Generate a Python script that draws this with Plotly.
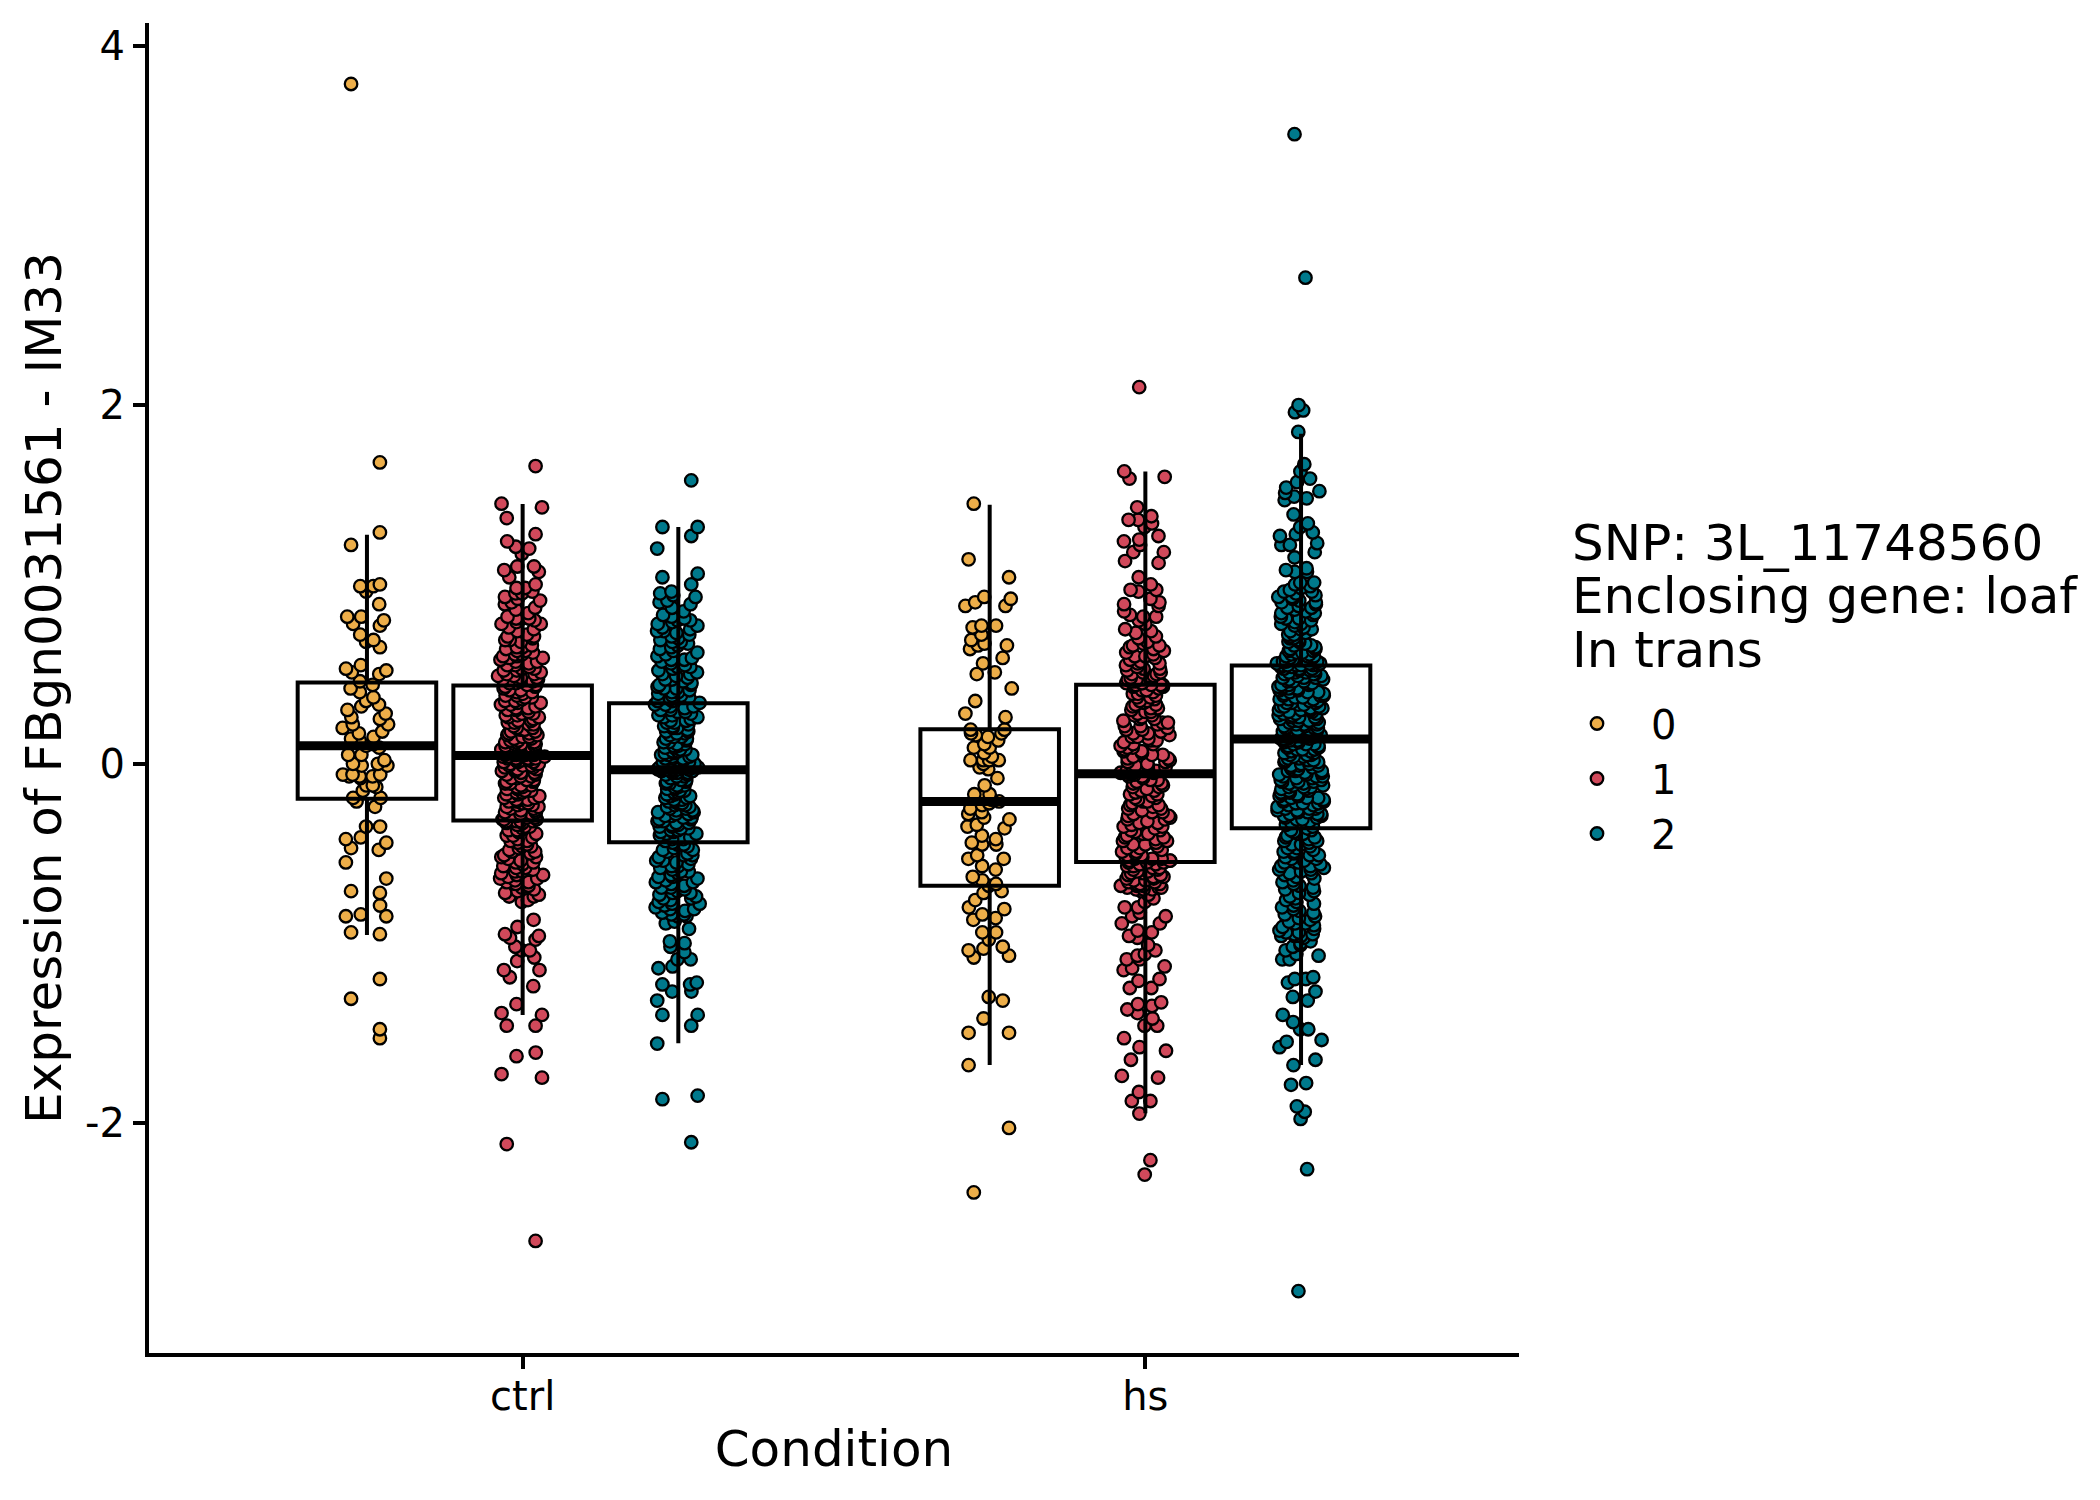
import math
import plotly.graph_objects as go

# ---------------- data ----------------
CONDITIONS = ["ctrl", "hs"]
GENOTYPES = ["0", "1", "2"]
COLORS = ["#EDAE49", "#D1495B", "#00798C"]

Y_TICKS = [-2, 0, 2, 4]
Y_TICK_LABELS = ["-2", "0", "2", "4"]

ctrl_g0 = [3.79, 1.68, 1.29, 1.22, 1.00, 0.99, 0.99, 0.96, 0.89, 0.82, 0.82, 0.80, 0.78, 0.77, 0.72, 0.69,
           0.68, 0.65, 0.55, 0.53, 0.52, 0.51, 0.50, 0.46, 0.44, 0.42, 0.40, 0.37, 0.35, 0.33, 0.32, 0.30,
           0.28, 0.26, 0.25, 0.22, 0.22, 0.20, 0.18, 0.17, 0.15, 0.14, 0.13, 0.11, 0.10, 0.09, 0.05, 0.05,
           0.02, 0.00, 0.00, -0.01, -0.01, -0.06, -0.06, -0.06, -0.07, -0.07, -0.07, -0.08, -0.12, -0.12,
           -0.13, -0.15, -0.19, -0.19, -0.21, -0.24, -0.35, -0.35, -0.41, -0.42, -0.44, -0.47, -0.48, -0.55,
           -0.64, -0.71, -0.72, -0.79, -0.84, -0.85, -0.85, -0.94, -0.95, -1.20, -1.31, -1.48, -1.53]

ctrl_g1 = [1.66, 1.45, 1.43, 1.37, 1.28, 1.24, 1.21, 1.20, 1.17, 1.10, 1.10, 1.08, 1.07, 1.04, 1.00,
           0.98, 0.98, 0.96, 0.95, 0.95, 0.93, 0.92, 0.91, 0.90, 0.89, 0.87, 0.86, 0.84, 0.82, 0.81, 0.81,
           0.81, 0.80, 0.79, 0.78, 0.78, 0.76, 0.75, 0.74, 0.72, 0.71, 0.71, 0.70, 0.69, 0.69, 0.68, 0.66,
           0.65, 0.65, 0.64, 0.63, 0.63, 0.62, 0.61, 0.61, 0.60, 0.60, 0.59, 0.59, 0.58, 0.57, 0.57, 0.56,
           0.55, 0.55, 0.54, 0.53, 0.53, 0.52, 0.52, 0.51, 0.50, 0.50, 0.49, 0.49, 0.48, 0.48, 0.47, 0.47,
           0.46, 0.46, 0.45, 0.45, 0.44, 0.44, 0.43, 0.43, 0.42, 0.41, 0.41, 0.40, 0.40, 0.39, 0.38, 0.38,
           0.37, 0.37, 0.36, 0.35, 0.35, 0.34, 0.34, 0.33, 0.33, 0.32, 0.31, 0.31, 0.30, 0.30, 0.29, 0.28,
           0.28, 0.27, 0.27, 0.26, 0.26, 0.25, 0.24, 0.24, 0.23, 0.23, 0.22, 0.22, 0.21, 0.20, 0.20, 0.19,
           0.19, 0.18, 0.18, 0.17, 0.17, 0.16, 0.16, 0.15, 0.15, 0.14, 0.14, 0.13, 0.13, 0.12, 0.12, 0.12,
           0.11, 0.11, 0.11, 0.10, 0.10, 0.10, 0.09, 0.09, 0.09, 0.08, 0.08, 0.08, 0.08, 0.07, 0.07, 0.07,
           0.07, 0.06, 0.06, 0.06, 0.06, 0.05, 0.05, 0.05, 0.05, 0.05, 0.05, 0.04, 0.04, 0.04, 0.03, 0.03,
           0.03, 0.03, 0.02, 0.02, 0.02, 0.01, 0.01, 0.01, 0.00, 0.00, 0.00, -0.01, -0.01, -0.01, -0.02,
           -0.02, -0.03, -0.03, -0.03, -0.04, -0.04, -0.05, -0.05, -0.06, -0.06, -0.07, -0.07, -0.08, -0.08,
           -0.09, -0.09, -0.10, -0.10, -0.11, -0.11, -0.12, -0.12, -0.13, -0.13, -0.14, -0.14, -0.15, -0.15,
           -0.16, -0.16, -0.17, -0.17, -0.18, -0.18, -0.19, -0.19, -0.20, -0.20, -0.21, -0.21, -0.22, -0.22,
           -0.23, -0.23, -0.24, -0.24, -0.25, -0.25, -0.26, -0.26, -0.27, -0.27, -0.28, -0.28, -0.29, -0.29,
           -0.30, -0.30, -0.31, -0.31, -0.31, -0.32, -0.32, -0.32, -0.32, -0.33, -0.33, -0.34, -0.35, -0.35,
           -0.36, -0.37, -0.37, -0.38, -0.39, -0.40, -0.40, -0.41, -0.42, -0.43, -0.43, -0.44, -0.45, -0.46,
           -0.46, -0.47, -0.48, -0.49, -0.49, -0.50, -0.51, -0.52, -0.52, -0.53, -0.54, -0.55, -0.55, -0.56,
           -0.57, -0.58, -0.58, -0.59, -0.60, -0.60, -0.61, -0.62, -0.62, -0.63, -0.64, -0.64, -0.65, -0.66,
           -0.66, -0.67, -0.68, -0.69, -0.70, -0.71, -0.72, -0.73, -0.74, -0.74, -0.76, -0.77, -0.87, -0.91,
           -0.95, -0.96, -0.97, -0.98, -1.02, -1.04, -1.04, -1.08, -1.10, -1.15, -1.15, -1.19, -1.24, -1.34,
           -1.39, -1.40, -1.46, -1.46, -1.61, -1.63, -1.73, -1.75, -2.12, -2.66]

ctrl_g2 = [1.58, 1.32, 1.32, 1.27, 1.20, 1.06, 1.04, 1.00, 0.96, 0.95, 0.94, 0.93, 0.91, 0.90, 0.89, 0.87,
           0.85, 0.83, 0.82, 0.81, 0.80, 0.80, 0.79, 0.78, 0.77, 0.76, 0.75, 0.74, 0.74, 0.73, 0.72, 0.71,
           0.70, 0.69, 0.68, 0.68, 0.67, 0.66, 0.65, 0.64, 0.63, 0.62, 0.61, 0.60, 0.59, 0.58, 0.58, 0.57,
           0.56, 0.55, 0.54, 0.54, 0.53, 0.52, 0.51, 0.50, 0.50, 0.49, 0.48, 0.47, 0.47, 0.46, 0.45, 0.44,
           0.44, 0.43, 0.42, 0.42, 0.41, 0.40, 0.40, 0.39, 0.38, 0.38, 0.37, 0.37, 0.36, 0.35, 0.35, 0.34,
           0.33, 0.33, 0.32, 0.32, 0.31, 0.30, 0.30, 0.29, 0.29, 0.28, 0.27, 0.27, 0.26, 0.26, 0.25, 0.24,
           0.24, 0.23, 0.23, 0.22, 0.21, 0.21, 0.20, 0.20, 0.19, 0.18, 0.18, 0.17, 0.17, 0.16, 0.15, 0.15,
           0.14, 0.14, 0.13, 0.12, 0.12, 0.11, 0.11, 0.10, 0.10, 0.09, 0.09, 0.08, 0.08, 0.07, 0.07, 0.06,
           0.06, 0.05, 0.05, 0.05, 0.04, 0.04, 0.03, 0.03, 0.03, 0.02, 0.02, 0.01, 0.01, 0.01, 0.00, 0.00,
           0.00, -0.01, -0.01, -0.01, -0.01, -0.02, -0.02, -0.02, -0.02, -0.03, -0.03, -0.03, -0.03, -0.03,
           -0.03, -0.03, -0.04, -0.04, -0.04, -0.05, -0.05, -0.05, -0.06, -0.06, -0.07, -0.07, -0.08, -0.08,
           -0.09, -0.09, -0.10, -0.10, -0.11, -0.11, -0.12, -0.12, -0.13, -0.13, -0.14, -0.14, -0.15, -0.15,
           -0.16, -0.16, -0.17, -0.17, -0.18, -0.18, -0.19, -0.19, -0.20, -0.20, -0.21, -0.21, -0.22, -0.22,
           -0.23, -0.23, -0.24, -0.24, -0.25, -0.25, -0.26, -0.26, -0.27, -0.27, -0.28, -0.28, -0.29, -0.29,
           -0.30, -0.30, -0.31, -0.31, -0.32, -0.32, -0.33, -0.33, -0.34, -0.34, -0.35, -0.35, -0.36, -0.36,
           -0.37, -0.37, -0.38, -0.38, -0.39, -0.39, -0.40, -0.41, -0.42, -0.42, -0.43, -0.44, -0.45, -0.45,
           -0.46, -0.47, -0.48, -0.48, -0.49, -0.50, -0.51, -0.51, -0.52, -0.53, -0.54, -0.54, -0.55, -0.56,
           -0.57, -0.57, -0.58, -0.59, -0.60, -0.60, -0.61, -0.62, -0.63, -0.63, -0.64, -0.65, -0.66, -0.66,
           -0.67, -0.68, -0.69, -0.69, -0.70, -0.71, -0.72, -0.72, -0.73, -0.74, -0.75, -0.75, -0.76, -0.77,
           -0.78, -0.78, -0.79, -0.80, -0.81, -0.81, -0.82, -0.83, -0.84, -0.84, -0.85, -0.85, -0.88, -0.89,
           -0.92, -0.99, -1.00, -1.02, -1.05, -1.09, -1.09, -1.13, -1.14, -1.22, -1.23, -1.23, -1.27, -1.27,
           -1.32, -1.40, -1.40, -1.46, -1.56, -1.85, -1.87, -2.11]

hs_g0 = [1.45, 1.14, 1.04, 0.93, 0.92, 0.90, 0.88, 0.88, 0.77, 0.77, 0.76, 0.72, 0.69, 0.67, 0.66, 0.66,
         0.64, 0.59, 0.56, 0.51, 0.50, 0.42, 0.35, 0.28, 0.26, 0.19, 0.19, 0.17, 0.17, 0.16, 0.15, 0.13,
         0.11, 0.09, 0.09, 0.06, 0.04, 0.02, 0.02, 0.02, 0.02, 0.00, -0.02, -0.03, -0.08, -0.12, -0.17,
         -0.17, -0.18, -0.20, -0.21, -0.22, -0.23, -0.25, -0.27, -0.28, -0.30, -0.31, -0.34, -0.35, -0.36,
         -0.40, -0.42, -0.44, -0.45, -0.45, -0.51, -0.53, -0.53, -0.57, -0.59, -0.63, -0.65, -0.67, -0.68,
         -0.71, -0.72, -0.76, -0.80, -0.81, -0.84, -0.86, -0.87, -0.94, -0.94, -0.98, -1.02, -1.03, -1.04,
         -1.07, -1.08, -1.30, -1.32, -1.42, -1.50, -1.50, -1.68, -2.03, -2.39]

hs_g1 = [2.10, 1.63, 1.60, 1.59, 1.43, 1.38, 1.36, 1.36, 1.34, 1.32, 1.27, 1.25, 1.24, 1.22, 1.18, 1.18,
         1.13, 1.12, 1.04, 1.00, 0.97, 0.97, 0.96, 0.92, 0.90, 0.89, 0.88, 0.85, 0.83, 0.82, 0.82, 0.80,
         0.78, 0.75, 0.74, 0.73, 0.71, 0.70, 0.68, 0.67, 0.66, 0.66, 0.65, 0.64, 0.63, 0.62, 0.61, 0.60,
         0.60, 0.59, 0.58, 0.57, 0.56, 0.56, 0.55, 0.54, 0.53, 0.53, 0.52, 0.51, 0.51, 0.50, 0.50, 0.49,
         0.49, 0.48, 0.48, 0.47, 0.47, 0.46, 0.46, 0.46, 0.45, 0.45, 0.45, 0.44, 0.44, 0.44, 0.44, 0.44,
         0.43, 0.43, 0.42, 0.41, 0.41, 0.40, 0.39, 0.39, 0.38, 0.37, 0.37, 0.36, 0.35, 0.35, 0.34, 0.33,
         0.33, 0.32, 0.31, 0.31, 0.30, 0.29, 0.29, 0.28, 0.27, 0.27, 0.26, 0.25, 0.25, 0.24, 0.23, 0.23,
         0.22, 0.21, 0.21, 0.20, 0.19, 0.19, 0.18, 0.17, 0.17, 0.16, 0.15, 0.15, 0.14, 0.13, 0.13, 0.12,
         0.11, 0.11, 0.10, 0.09, 0.09, 0.08, 0.07, 0.07, 0.06, 0.05, 0.05, 0.04, 0.03, 0.03, 0.02, 0.01,
         0.01, 0.00, -0.01, -0.01, -0.02, -0.02, -0.03, -0.03, -0.04, -0.04, -0.04, -0.05, -0.05, -0.05,
         -0.05, -0.06, -0.06, -0.07, -0.07, -0.08, -0.09, -0.09, -0.10, -0.11, -0.11, -0.12, -0.13, -0.13,
         -0.14, -0.15, -0.15, -0.16, -0.17, -0.17, -0.18, -0.19, -0.19, -0.20, -0.21, -0.21, -0.22, -0.23,
         -0.23, -0.24, -0.25, -0.25, -0.26, -0.27, -0.27, -0.28, -0.29, -0.29, -0.30, -0.31, -0.31, -0.32,
         -0.33, -0.33, -0.34, -0.35, -0.35, -0.36, -0.37, -0.37, -0.38, -0.39, -0.39, -0.40, -0.41, -0.41,
         -0.42, -0.43, -0.43, -0.44, -0.45, -0.45, -0.46, -0.47, -0.47, -0.48, -0.49, -0.49, -0.50, -0.51,
         -0.51, -0.52, -0.52, -0.53, -0.53, -0.53, -0.54, -0.54, -0.54, -0.55, -0.55, -0.55, -0.56, -0.56,
         -0.57, -0.57, -0.58, -0.58, -0.59, -0.59, -0.60, -0.60, -0.61, -0.61, -0.62, -0.62, -0.63, -0.63,
         -0.64, -0.64, -0.65, -0.65, -0.66, -0.66, -0.67, -0.67, -0.67, -0.68, -0.68, -0.68, -0.69, -0.69,
         -0.69, -0.70, -0.70, -0.70, -0.71, -0.73, -0.75, -0.77, -0.80, -0.80, -0.83, -0.85, -0.85, -0.89,
         -0.89, -0.93, -0.94, -0.96, -0.97, -1.01, -1.04, -1.06, -1.07, -1.09, -1.09, -1.13, -1.14, -1.15,
         -1.20, -1.21, -1.25, -1.25, -1.33, -1.34, -1.35, -1.37, -1.39, -1.42, -1.46, -1.46, -1.53, -1.58,
         -1.60, -1.65, -1.74, -1.75, -1.83, -1.88, -1.88, -1.95, -2.21, -2.29]

hs_g2 = [3.51, 2.71, 2.00, 1.97, 1.96, 1.85, 1.67, 1.63, 1.59, 1.57, 1.54, 1.52, 1.51, 1.49, 1.48, 1.47,
         1.39, 1.34, 1.32, 1.29, 1.28, 1.27, 1.23, 1.22, 1.22, 1.18, 1.15, 1.09, 1.08, 1.07, 1.07, 1.01,
         1.01, 1.00, 0.99, 0.98, 0.97, 0.96, 0.96, 0.95, 0.94, 0.93, 0.93, 0.92, 0.91, 0.90, 0.90, 0.89,
         0.88, 0.87, 0.87, 0.86, 0.85, 0.84, 0.84, 0.83, 0.82, 0.81, 0.81, 0.80, 0.79, 0.78, 0.78, 0.77,
         0.76, 0.75, 0.75, 0.74, 0.73, 0.72, 0.72, 0.71, 0.70, 0.70, 0.69, 0.68, 0.68, 0.67, 0.66, 0.66,
         0.65, 0.64, 0.64, 0.63, 0.63, 0.62, 0.62, 0.61, 0.61, 0.60, 0.60, 0.60, 0.59, 0.59, 0.58, 0.58,
         0.58, 0.57, 0.57, 0.57, 0.56, 0.56, 0.56, 0.56, 0.55, 0.55, 0.55, 0.55, 0.55, 0.55, 0.54, 0.54,
         0.54, 0.53, 0.53, 0.53, 0.52, 0.52, 0.52, 0.51, 0.51, 0.51, 0.50, 0.50, 0.50, 0.49, 0.49, 0.48,
         0.48, 0.48, 0.47, 0.47, 0.46, 0.46, 0.46, 0.45, 0.45, 0.44, 0.44, 0.44, 0.43, 0.43, 0.42, 0.42,
         0.42, 0.41, 0.41, 0.40, 0.40, 0.40, 0.39, 0.39, 0.38, 0.38, 0.38, 0.37, 0.37, 0.36, 0.36, 0.36,
         0.35, 0.35, 0.34, 0.34, 0.34, 0.33, 0.33, 0.32, 0.32, 0.32, 0.31, 0.31, 0.30, 0.30, 0.30, 0.29,
         0.29, 0.28, 0.28, 0.28, 0.27, 0.27, 0.26, 0.26, 0.26, 0.25, 0.25, 0.24, 0.24, 0.24, 0.23, 0.23,
         0.22, 0.22, 0.22, 0.21, 0.21, 0.20, 0.20, 0.20, 0.19, 0.19, 0.18, 0.18, 0.18, 0.17, 0.17, 0.17,
         0.16, 0.16, 0.16, 0.15, 0.15, 0.15, 0.15, 0.14, 0.14, 0.14, 0.14, 0.14, 0.13, 0.13, 0.13, 0.12,
         0.12, 0.11, 0.11, 0.11, 0.10, 0.10, 0.09, 0.09, 0.08, 0.08, 0.08, 0.07, 0.07, 0.06, 0.06, 0.05,
         0.05, 0.05, 0.04, 0.04, 0.03, 0.03, 0.02, 0.02, 0.02, 0.01, 0.01, 0.00, 0.00, -0.01, -0.01, -0.01,
         -0.02, -0.02, -0.03, -0.03, -0.04, -0.04, -0.04, -0.05, -0.05, -0.06, -0.06, -0.07, -0.07, -0.07,
         -0.08, -0.08, -0.09, -0.09, -0.10, -0.10, -0.10, -0.11, -0.11, -0.12, -0.12, -0.13, -0.13, -0.13,
         -0.14, -0.14, -0.15, -0.15, -0.16, -0.16, -0.16, -0.17, -0.17, -0.18, -0.18, -0.19, -0.19, -0.19,
         -0.20, -0.20, -0.21, -0.21, -0.22, -0.22, -0.22, -0.23, -0.23, -0.24, -0.24, -0.25, -0.25, -0.25,
         -0.26, -0.26, -0.27, -0.27, -0.28, -0.28, -0.28, -0.29, -0.29, -0.30, -0.30, -0.31, -0.31, -0.32,
         -0.33, -0.34, -0.35, -0.36, -0.37, -0.37, -0.38, -0.39, -0.39, -0.40, -0.41, -0.41, -0.42, -0.43,
         -0.43, -0.44, -0.45, -0.45, -0.46, -0.47, -0.47, -0.48, -0.49, -0.49, -0.50, -0.51, -0.51, -0.52,
         -0.53, -0.53, -0.54, -0.55, -0.55, -0.56, -0.57, -0.57, -0.58, -0.59, -0.59, -0.60, -0.61, -0.61,
         -0.62, -0.63, -0.64, -0.65, -0.66, -0.67, -0.68, -0.69, -0.70, -0.71, -0.72, -0.73, -0.74, -0.75,
         -0.76, -0.77, -0.78, -0.79, -0.80, -0.81, -0.82, -0.83, -0.84, -0.85, -0.86, -0.87, -0.88, -0.89,
         -0.89, -0.90, -0.91, -0.92, -0.93, -0.94, -0.94, -0.95, -0.95, -0.96, -0.96, -0.96, -0.97, -0.99,
         -1.00, -1.01, -1.02, -1.04, -1.06, -1.07, -1.09, -1.09, -1.19, -1.20, -1.20, -1.22, -1.27, -1.30,
         -1.32, -1.40, -1.44, -1.48, -1.48, -1.54, -1.55, -1.58, -1.65, -1.68, -1.78, -1.79, -1.91, -1.94,
         -1.98, -2.26, -2.94]

# box statistics per genotype, values for [ctrl, hs]
box_lower = [[-0.954, -1.679], [-1.400, -1.948], [-1.558, -1.680]]
box_q1 = [[-0.195, -0.680], [-0.316, -0.548], [-0.437, -0.359]]
box_median = [[0.100, -0.210], [0.046, -0.056], [-0.033, 0.138]]
box_q3 = [[0.453, 0.193], [0.437, 0.441], [0.338, 0.548]]
box_upper = [[1.277, 1.444], [1.448, 1.630], [1.320, 1.840]]

LEGEND_TITLE_LINES = ["SNP: 3L_11748560", "Enclosing gene: loaf", "In trans"]
X_TITLE = "Condition"
Y_TITLE = "Expression of FBgn0031561 - IM33"

# ---------------- figure ----------------
ctrl_vals = [ctrl_g0, ctrl_g1, ctrl_g2]
hs_vals = [hs_g0, hs_g1, hs_g2]

FONT = "DejaVu Sans"
MARKER_SIZE = 12.5
MARKER_LINE = 2.3
# points are jittered band by band so sparse tails spread like the dense cores
JITTER_BAND = 0.25
TAIL_LIMIT = 1.5


def band_of(v):
    if v >= TAIL_LIMIT:
        return 10 ** 6
    if v < -TAIL_LIMIT:
        return -10 ** 6
    return math.floor(v / JITTER_BAND)


fig = go.Figure()

# jittered points (drawn first, boxes outlined on top)
for g in range(3):
    bands = {}
    for cond, vals in zip(CONDITIONS, [ctrl_vals[g], hs_vals[g]]):
        for v in vals:
            bx, by = bands.setdefault(band_of(v), ([], []))
            bx.append(cond)
            by.append(v)
    for b in sorted(bands):
        bx, by = bands[b]
        fig.add_trace(go.Box(
            x=bx, y=by, name=GENOTYPES[g],
            boxpoints="all", jitter=0.36, pointpos=0,
            fillcolor="rgba(0,0,0,0)",
            line=dict(width=0, color="rgba(0,0,0,0)"),
            whiskerwidth=0,
            marker=dict(color=COLORS[g], size=MARKER_SIZE, opacity=1,
                        line=dict(color="black", width=MARKER_LINE)),
            offsetgroup=GENOTYPES[g], alignmentgroup="a",
            showlegend=False, hoverinfo="y",
        ))

# box outlines
for g in range(3):
    fig.add_trace(go.Box(
        x=CONDITIONS, q1=box_q1[g], median=box_median[g], q3=box_q3[g],
        lowerfence=box_lower[g], upperfence=box_upper[g],
        boxpoints=False, fillcolor="rgba(0,0,0,0)",
        line=dict(color="black", width=4), whiskerwidth=0,
        offsetgroup=GENOTYPES[g], alignmentgroup="a",
        showlegend=False, hoverinfo="skip",
    ))

# thick median bars
for g in range(3):
    fig.add_trace(go.Box(
        x=CONDITIONS, q1=box_median[g], median=box_median[g], q3=box_median[g],
        lowerfence=box_median[g], upperfence=box_median[g],
        boxpoints=False, fillcolor="rgba(0,0,0,0)",
        line=dict(color="black", width=9), whiskerwidth=0,
        offsetgroup=GENOTYPES[g], alignmentgroup="a",
        showlegend=False, hoverinfo="skip",
    ))

# legend entries
for g in range(3):
    fig.add_trace(go.Scatter(
        x=[None], y=[None], mode="markers", name=GENOTYPES[g],
        marker=dict(color=COLORS[g], size=MARKER_SIZE, line=dict(color="black", width=MARKER_LINE)),
    ))

PLOT_LEFT, PLOT_RIGHT = 149, 1519
PLOT_TOP, PLOT_BOTTOM = 23, 1353


def px_x(px):
    return (px - PLOT_LEFT) / (PLOT_RIGHT - PLOT_LEFT)


def px_y(px):
    return (PLOT_BOTTOM - px) / (PLOT_BOTTOM - PLOT_TOP)


annotations = []
for i, line in enumerate(LEGEND_TITLE_LINES):
    annotations.append(dict(
        text=line, xref="paper", yref="paper", x=px_x(1570), y=px_y(543 + 53.3 * i),
        xanchor="left", yanchor="middle", showarrow=False,
        font=dict(family=FONT, size=50, color="black"),
    ))

fig.update_layout(
    width=2100, height=1500,
    margin=dict(l=PLOT_LEFT, r=2100 - PLOT_RIGHT, t=PLOT_TOP, b=1500 - PLOT_BOTTOM, pad=0),
    paper_bgcolor="white", plot_bgcolor="white",
    font=dict(family=FONT, color="black"),
    boxmode="group", boxgap=0.25, boxgroupgap=0.11,
    annotations=annotations,
    legend=dict(
        x=px_x(1543), xanchor="left",
        y=px_y(691), yanchor="top",
        font=dict(family=FONT, size=40, color="black"),
        bgcolor="rgba(0,0,0,0)", itemwidth=98,
        tracegroupgap=0,
    ),
    xaxis=dict(
        type="category", categoryorder="array", categoryarray=CONDITIONS,
        range=[-0.6, 1.6],
        showline=True, linecolor="black", linewidth=4,
        ticks="outside", ticklen=12, tickwidth=4, tickcolor="black",
        tickfont=dict(family=FONT, size=40, color="black"),
        ticklabelstandoff=-7,
        showgrid=False, zeroline=False,
        title=dict(text=X_TITLE, font=dict(family=FONT, size=50, color="black"), standoff=14),
    ),
    yaxis=dict(
        range=[-3.285, 4.13],
        tickvals=Y_TICKS, ticktext=Y_TICK_LABELS,
        showline=True, linecolor="black", linewidth=4,
        ticks="outside", ticklen=12, tickwidth=4, tickcolor="black",
        tickfont=dict(family=FONT, size=40, color="black"),
        showgrid=False, zeroline=False,
        title=dict(text=Y_TITLE, font=dict(family=FONT, size=50, color="black"), standoff=9),
    ),
)

fig.write_html("out.html")
